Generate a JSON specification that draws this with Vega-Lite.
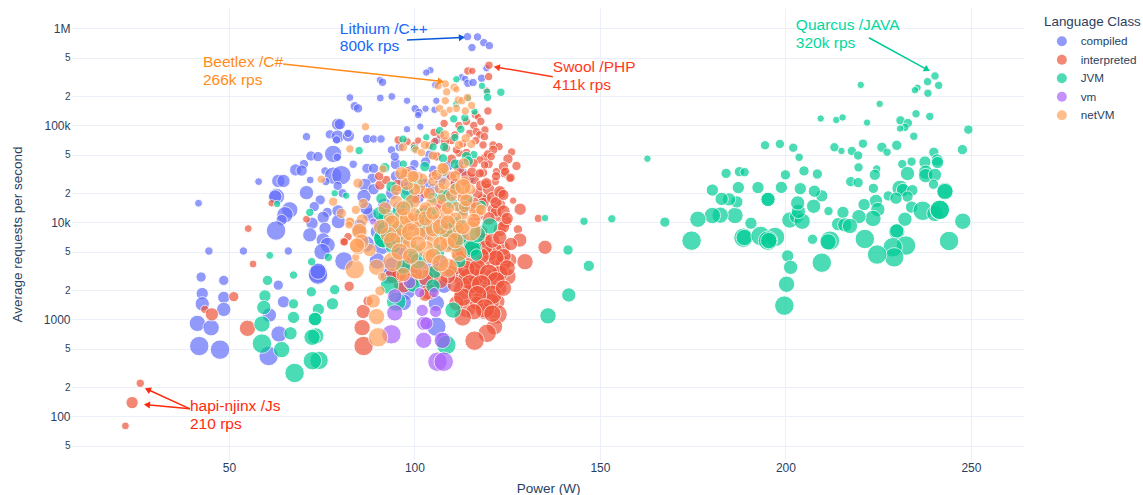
{"$schema":"https://vega.github.io/schema/vega-lite/v6.json","width":952,"height":452,"autosize":{"type":"none"},"padding":{"left":72,"top":8,"right":119,"bottom":35},"background":"white",
"config":{"font":"Liberation Sans","view":{"stroke":null}},
"datasets":{
"arrows":[
{"name":"Lithium","power":98,"rps":760000,"power_end":112.8,"rps_end":807000},
{"name":"Beetlex","power":64.6,"rps":430000,"power_end":107.1,"rps_end":285000},
{"name":"Swool","power":137.3,"rps":318000,"power_end":122.2,"rps_end":399000},
{"name":"Quarcus","power":222.5,"rps":803000,"power_end":238.2,"rps_end":377000},
{"name":"hapi","power":39.5,"rps":120,"power_end":28.1,"rps_end":190},
{"name":"hapi","power":39.5,"rps":120,"power_end":27.9,"rps_end":132}],
"notes":[
{"name":"Lithium","power":79.9,"rps":988000,"text":"Lithium /C++"},{"name":"Lithium","power":79.9,"rps":652000,"text":"800k rps"},
{"name":"Beetlex","power":43,"rps":452000,"text":"Beetlex /C#"},{"name":"Beetlex","power":43,"rps":294000,"text":"266k rps"},
{"name":"Swool","power":137.3,"rps":401000,"text":"Swool /PHP"},{"name":"Swool","power":137.3,"rps":262000,"text":"411k rps"},
{"name":"Quarcus","power":202.8,"rps":1087000,"text":"Quarcus /JAVA"},{"name":"Quarcus","power":202.8,"rps":709000,"text":"320k rps"},
{"name":"hapi","power":39.5,"rps":128,"text":"hapi-njinx /Js"},{"name":"hapi","power":39.5,"rps":84,"text":"210 rps"}],
"bubbles":[
{"class":"compiled","power":44.6,"rps":5080,"size":49},{"class":"compiled","power":53.9,"rps":5080,"size":49},{"class":"compiled","power":66,"rps":5080,"size":49},{"class":"compiled","power":42.5,"rps":2740,"size":81},{"class":"compiled","power":48.6,"rps":2530,"size":81},{"class":"compiled","power":63.3,"rps":2260,"size":81},{"class":"compiled","power":42.8,"rps":1850,"size":121},{"class":"compiled","power":48.6,"rps":1690,"size":121},{"class":"compiled","power":42.8,"rps":1450,"size":169},{"class":"compiled","power":48.6,"rps":1270,"size":169},{"class":"compiled","power":41.5,"rps":912,"size":225},{"class":"compiled","power":45.2,"rps":822,"size":225},{"class":"compiled","power":60.9,"rps":1110,"size":169},{"class":"compiled","power":64.7,"rps":1520,"size":121},{"class":"compiled","power":63.5,"rps":708,"size":225},{"class":"compiled","power":42,"rps":532,"size":324},{"class":"compiled","power":47.6,"rps":489,"size":324},{"class":"compiled","power":60.7,"rps":420,"size":324},{"class":"compiled","power":81,"rps":4010,"size":289},{"class":"compiled","power":74,"rps":2990,"size":324},{"class":"compiled","power":74,"rps":2900,"size":324},{"class":"compiled","power":74,"rps":3150,"size":225},
{"class":"compiled","power":41.8,"rps":15800,"size":42},{"class":"compiled","power":58,"rps":26400,"size":42},{"class":"compiled","power":70.9,"rps":76700,"size":49},{"class":"compiled","power":82.6,"rps":194000,"size":42},{"class":"compiled","power":90.7,"rps":294000,"size":36},{"class":"compiled","power":91.4,"rps":279000,"size":49},{"class":"compiled","power":90.8,"rps":192000,"size":42},{"class":"compiled","power":93.9,"rps":199000,"size":42},{"class":"compiled","power":83.9,"rps":158000,"size":64},{"class":"compiled","power":84.8,"rps":150000,"size":64},{"class":"compiled","power":79.3,"rps":103000,"size":121},{"class":"compiled","power":79.9,"rps":103000,"size":100},{"class":"compiled","power":77.2,"rps":81000,"size":64},{"class":"compiled","power":79.3,"rps":76700,"size":144},{"class":"compiled","power":82.2,"rps":78000,"size":121},{"class":"compiled","power":82.1,"rps":83000,"size":49},{"class":"compiled","power":79,"rps":71000,"size":49},{"class":"compiled","power":87.2,"rps":72600,"size":64},{"class":"compiled","power":89,"rps":72600,"size":49},{"class":"compiled","power":91,"rps":72600,"size":49},{"class":"compiled","power":72.1,"rps":48500,"size":81},{"class":"compiled","power":74,"rps":47800,"size":81},{"class":"compiled","power":78.1,"rps":50900,"size":256},{"class":"compiled","power":79.2,"rps":47000,"size":49},{"class":"compiled","power":83.5,"rps":39800,"size":49},{"class":"compiled","power":70.2,"rps":40000,"size":64},{"class":"compiled","power":68,"rps":34800,"size":121},{"class":"compiled","power":69.6,"rps":34300,"size":100},{"class":"compiled","power":75.9,"rps":34000,"size":49},{"class":"compiled","power":78.1,"rps":30400,"size":256},{"class":"compiled","power":80.3,"rps":30700,"size":324},{"class":"compiled","power":87.2,"rps":36200,"size":81},{"class":"compiled","power":89,"rps":36200,"size":81},{"class":"compiled","power":88.6,"rps":28600,"size":81},{"class":"compiled","power":76.1,"rps":26400,"size":49},{"class":"compiled","power":71.9,"rps":27400,"size":42},{"class":"compiled","power":79.3,"rps":23800,"size":64},{"class":"compiled","power":63.3,"rps":26800,"size":144},{"class":"compiled","power":64.7,"rps":26800,"size":144},{"class":"compiled","power":70.9,"rps":20300,"size":169},{"class":"compiled","power":62.8,"rps":18500,"size":225},{"class":"compiled","power":62.5,"rps":18500,"size":144},{"class":"compiled","power":74.6,"rps":17100,"size":81},{"class":"compiled","power":80.6,"rps":20000,"size":64},{"class":"compiled","power":86.6,"rps":24400,"size":144},{"class":"compiled","power":86.4,"rps":18500,"size":169},{"class":"compiled","power":66.4,"rps":13500,"size":225},{"class":"compiled","power":65.1,"rps":12000,"size":225},{"class":"compiled","power":64.2,"rps":10600,"size":100},{"class":"compiled","power":73,"rps":14600,"size":81},{"class":"compiled","power":76.5,"rps":12700,"size":81},{"class":"compiled","power":75.4,"rps":11300,"size":121},{"class":"compiled","power":79.4,"rps":13200,"size":121},{"class":"compiled","power":79.5,"rps":10200,"size":169},{"class":"compiled","power":72.4,"rps":9820,"size":121},{"class":"compiled","power":71.8,"rps":7450,"size":169},{"class":"compiled","power":75.9,"rps":8710,"size":121},{"class":"compiled","power":62.7,"rps":8250,"size":324},{"class":"compiled","power":75.4,"rps":6600,"size":169},{"class":"compiled","power":76.6,"rps":5860,"size":196},{"class":"compiled","power":75.1,"rps":5000,"size":225},
{"class":"compiled","power":91.1,"rps":5640,"size":225},{"class":"compiled","power":94.2,"rps":3510,"size":324},{"class":"compiled","power":97.8,"rps":2010,"size":324},{"class":"compiled","power":105.9,"rps":1470,"size":225},{"class":"compiled","power":105.9,"rps":843,"size":324},{"class":"compiled","power":105,"rps":2180,"size":225},{"class":"compiled","power":107.9,"rps":605,"size":225},{"class":"compiled","power":90,"rps":8000,"size":169},{"class":"compiled","power":92,"rps":15000,"size":169},{"class":"compiled","power":95,"rps":30000,"size":100},{"class":"compiled","power":98,"rps":22000,"size":121},{"class":"compiled","power":100,"rps":40000,"size":64},{"class":"compiled","power":103,"rps":25000,"size":100},{"class":"compiled","power":105,"rps":35000,"size":64},{"class":"compiled","power":108,"rps":30000,"size":64},{"class":"compiled","power":110,"rps":20000,"size":100},{"class":"compiled","power":112,"rps":40000,"size":64},{"class":"compiled","power":96,"rps":60000,"size":64},{"class":"compiled","power":104,"rps":50000,"size":64},{"class":"compiled","power":106,"rps":70000,"size":49},{"class":"compiled","power":88,"rps":12000,"size":169},{"class":"compiled","power":85,"rps":9000,"size":196},{"class":"compiled","power":87,"rps":6000,"size":225},{"class":"compiled","power":90,"rps":4000,"size":225},{"class":"compiled","power":93,"rps":2800,"size":225},{"class":"compiled","power":100,"rps":4000,"size":169},{"class":"compiled","power":102,"rps":2500,"size":196},{"class":"compiled","power":108,"rps":2200,"size":169},{"class":"compiled","power":97,"rps":1500,"size":225},
{"class":"compiled","power":95,"rps":40000,"size":100},{"class":"compiled","power":97,"rps":27000,"size":121},{"class":"compiled","power":99,"rps":33000,"size":144},{"class":"compiled","power":101,"rps":18000,"size":121},{"class":"compiled","power":103,"rps":42000,"size":81},{"class":"compiled","power":105,"rps":22000,"size":121},{"class":"compiled","power":107,"rps":27000,"size":100},{"class":"compiled","power":109,"rps":38000,"size":81},{"class":"compiled","power":111,"rps":25000,"size":100},{"class":"compiled","power":113,"rps":33000,"size":64},{"class":"compiled","power":115,"rps":28000,"size":64},{"class":"compiled","power":94,"rps":20000,"size":144},{"class":"compiled","power":96,"rps":14000,"size":169},{"class":"compiled","power":99,"rps":10000,"size":196},{"class":"compiled","power":103,"rps":8000,"size":196},{"class":"compiled","power":107,"rps":10000,"size":169},{"class":"compiled","power":110,"rps":6000,"size":169},{"class":"compiled","power":113,"rps":7000,"size":144},{"class":"compiled","power":89,"rps":22000,"size":100},{"class":"compiled","power":87,"rps":14000,"size":144},{"class":"compiled","power":91,"rps":10000,"size":196},{"class":"compiled","power":93,"rps":7000,"size":225},{"class":"compiled","power":96,"rps":5000,"size":225},{"class":"compiled","power":99,"rps":3000,"size":225},{"class":"compiled","power":103,"rps":3500,"size":196},{"class":"compiled","power":107,"rps":4000,"size":169},{"class":"compiled","power":110,"rps":3000,"size":169},
{"class":"compiled","power":114.3,"rps":824000,"size":49},{"class":"compiled","power":117,"rps":818000,"size":49},{"class":"compiled","power":118.7,"rps":714000,"size":49},{"class":"compiled","power":120.2,"rps":665000,"size":49},{"class":"compiled","power":115.5,"rps":635000,"size":49},{"class":"compiled","power":119.4,"rps":389000,"size":36},{"class":"compiled","power":104.3,"rps":371000,"size":36},{"class":"compiled","power":103.2,"rps":351000,"size":36},{"class":"compiled","power":112.7,"rps":314000,"size":36},{"class":"compiled","power":113.7,"rps":302000,"size":36},{"class":"compiled","power":114.4,"rps":272000,"size":49},{"class":"compiled","power":115.8,"rps":277000,"size":49},{"class":"compiled","power":118.1,"rps":307000,"size":49},{"class":"compiled","power":105.6,"rps":262000,"size":36},{"class":"compiled","power":105.9,"rps":180000,"size":36},{"class":"compiled","power":98,"rps":180000,"size":36},{"class":"compiled","power":100.2,"rps":149000,"size":49},{"class":"compiled","power":101.2,"rps":136000,"size":49},{"class":"compiled","power":101,"rps":128000,"size":36},{"class":"compiled","power":103,"rps":149000,"size":36},{"class":"compiled","power":105.4,"rps":145000,"size":36},{"class":"compiled","power":98,"rps":91400,"size":36},{"class":"compiled","power":101.6,"rps":97300,"size":36},{"class":"compiled","power":93.8,"rps":56000,"size":49},{"class":"compiled","power":94.7,"rps":47800,"size":64},
{"class":"interpreted","power":128.5,"rps":13700,"size":121},{"class":"interpreted","power":133.4,"rps":11000,"size":49},{"class":"interpreted","power":127.9,"rps":8500,"size":64},{"class":"interpreted","power":128.4,"rps":6590,"size":169},{"class":"interpreted","power":135.2,"rps":5550,"size":169},{"class":"interpreted","power":129.8,"rps":3940,"size":225},{"class":"interpreted","power":125.2,"rps":2760,"size":225},{"class":"interpreted","power":125.7,"rps":4100,"size":169},{"class":"interpreted","power":123.9,"rps":5420,"size":169},{"class":"interpreted","power":121.8,"rps":5200,"size":169},{"class":"interpreted","power":118.9,"rps":6590,"size":169},{"class":"interpreted","power":123,"rps":8360,"size":144},{"class":"interpreted","power":124.5,"rps":10200,"size":144},{"class":"interpreted","power":123,"rps":15100,"size":121},{"class":"interpreted","power":123.4,"rps":20000,"size":100},{"class":"interpreted","power":119.4,"rps":17700,"size":64},{"class":"interpreted","power":118.3,"rps":17700,"size":81},{"class":"interpreted","power":121.8,"rps":26400,"size":49},{"class":"interpreted","power":119.4,"rps":25400,"size":36},{"class":"interpreted","power":126.6,"rps":16800,"size":36},{"class":"interpreted","power":125.7,"rps":28500,"size":49},{"class":"interpreted","power":124.3,"rps":32100,"size":64},{"class":"interpreted","power":122.1,"rps":33400,"size":49},{"class":"interpreted","power":118.5,"rps":32600,"size":64},{"class":"interpreted","power":122.1,"rps":3650,"size":324},{"class":"interpreted","power":122.1,"rps":2880,"size":225},{"class":"interpreted","power":118.5,"rps":3940,"size":225},{"class":"interpreted","power":114.5,"rps":3940,"size":169},{"class":"interpreted","power":112.2,"rps":2760,"size":196},{"class":"interpreted","power":113.1,"rps":2010,"size":324},{"class":"interpreted","power":116.2,"rps":2140,"size":361},{"class":"interpreted","power":120.7,"rps":2140,"size":324},{"class":"interpreted","power":123,"rps":2090,"size":169},{"class":"interpreted","power":118.3,"rps":1610,"size":324},{"class":"interpreted","power":122.5,"rps":1530,"size":169},{"class":"interpreted","power":114,"rps":1300,"size":289},{"class":"interpreted","power":111.3,"rps":1470,"size":196},{"class":"interpreted","power":118.9,"rps":1210,"size":225},{"class":"interpreted","power":122.4,"rps":1130,"size":324},{"class":"interpreted","power":121.6,"rps":843,"size":225},{"class":"interpreted","power":119.6,"rps":720,"size":289},{"class":"interpreted","power":116.2,"rps":605,"size":324},{"class":"interpreted","power":86.2,"rps":1210,"size":169},{"class":"interpreted","power":85.9,"rps":824,"size":225},{"class":"interpreted","power":86.3,"rps":533,"size":324},{"class":"interpreted","power":87.5,"rps":1550,"size":81},{"class":"interpreted","power":82.4,"rps":2200,"size":81},{"class":"interpreted","power":103.9,"rps":1940,"size":225},{"class":"interpreted","power":102.9,"rps":1800,"size":144},{"class":"interpreted","power":96.9,"rps":2360,"size":324},{"class":"interpreted","power":97.8,"rps":3790,"size":289},{"class":"interpreted","power":82.1,"rps":7140,"size":49},{"class":"interpreted","power":80.9,"rps":6340,"size":49},{"class":"interpreted","power":70.9,"rps":10800,"size":42},{"class":"interpreted","power":90.7,"rps":24300,"size":81},{"class":"interpreted","power":102.8,"rps":12900,"size":144},{"class":"interpreted","power":115.8,"rps":3240,"size":225},{"class":"interpreted","power":123.9,"rps":3790,"size":225},{"class":"interpreted","power":119.4,"rps":2760,"size":225},{"class":"interpreted","power":114,"rps":2760,"size":225},{"class":"interpreted","power":116.7,"rps":2760,"size":225},{"class":"interpreted","power":120.3,"rps":4810,"size":196},{"class":"interpreted","power":123,"rps":2990,"size":225},{"class":"interpreted","power":120.7,"rps":1530,"size":225},{"class":"interpreted","power":116.7,"rps":1470,"size":169},{"class":"interpreted","power":118.5,"rps":15700,"size":121},{"class":"interpreted","power":121.2,"rps":13500,"size":121},{"class":"interpreted","power":122,"rps":11500,"size":100},{"class":"interpreted","power":124,"rps":9000,"size":121},{"class":"interpreted","power":122,"rps":13000,"size":100},{"class":"interpreted","power":112,"rps":4500,"size":169},{"class":"interpreted","power":115,"rps":6000,"size":169},{"class":"interpreted","power":118,"rps":8000,"size":144},{"class":"interpreted","power":110,"rps":8000,"size":121},{"class":"interpreted","power":116,"rps":10000,"size":121},{"class":"interpreted","power":113,"rps":13000,"size":100},{"class":"interpreted","power":117,"rps":20000,"size":100},{"class":"interpreted","power":114,"rps":25000,"size":64},
{"class":"interpreted","power":110,"rps":30000,"size":81},{"class":"interpreted","power":112,"rps":35000,"size":100},{"class":"interpreted","power":114,"rps":30000,"size":100},{"class":"interpreted","power":116,"rps":28000,"size":100},{"class":"interpreted","power":118,"rps":24000,"size":100},{"class":"interpreted","power":120,"rps":22000,"size":121},{"class":"interpreted","power":121,"rps":18000,"size":121},{"class":"interpreted","power":122,"rps":16000,"size":121},{"class":"interpreted","power":124,"rps":13000,"size":144},{"class":"interpreted","power":125,"rps":11000,"size":121},{"class":"interpreted","power":120,"rps":11000,"size":144},{"class":"interpreted","power":117,"rps":12000,"size":121},{"class":"interpreted","power":115,"rps":15000,"size":121},{"class":"interpreted","power":113,"rps":18000,"size":100},{"class":"interpreted","power":111,"rps":25000,"size":100},{"class":"interpreted","power":109,"rps":20000,"size":100},{"class":"interpreted","power":107,"rps":15000,"size":121},{"class":"interpreted","power":105,"rps":30000,"size":64},{"class":"interpreted","power":103,"rps":20000,"size":100},{"class":"interpreted","power":101,"rps":30000,"size":64},{"class":"interpreted","power":100,"rps":18000,"size":100},{"class":"interpreted","power":117,"rps":5000,"size":225},{"class":"interpreted","power":119,"rps":5500,"size":196},{"class":"interpreted","power":121,"rps":6500,"size":196},{"class":"interpreted","power":123,"rps":7000,"size":169},{"class":"interpreted","power":126,"rps":6000,"size":144},{"class":"interpreted","power":124,"rps":4500,"size":196},{"class":"interpreted","power":122,"rps":4300,"size":225},{"class":"interpreted","power":118,"rps":4500,"size":225},{"class":"interpreted","power":116,"rps":5000,"size":196},{"class":"interpreted","power":113,"rps":5000,"size":196},{"class":"interpreted","power":111,"rps":3500,"size":225},{"class":"interpreted","power":114,"rps":3300,"size":256},{"class":"interpreted","power":117,"rps":3400,"size":256},{"class":"interpreted","power":120,"rps":3000,"size":289},{"class":"interpreted","power":122,"rps":2500,"size":289},{"class":"interpreted","power":125,"rps":3400,"size":225},{"class":"interpreted","power":115,"rps":2300,"size":324},{"class":"interpreted","power":118,"rps":2300,"size":324},{"class":"interpreted","power":121,"rps":1800,"size":324},{"class":"interpreted","power":113,"rps":1700,"size":289},{"class":"interpreted","power":111,"rps":2300,"size":225},{"class":"interpreted","power":117,"rps":1800,"size":289},{"class":"interpreted","power":119,"rps":1300,"size":324},{"class":"interpreted","power":124,"rps":2100,"size":225},{"class":"interpreted","power":121,"rps":1150,"size":256},{"class":"interpreted","power":116,"rps":1200,"size":225},{"class":"interpreted","power":113,"rps":1050,"size":256},{"class":"interpreted","power":109,"rps":2800,"size":196},{"class":"interpreted","power":107,"rps":2500,"size":196},{"class":"interpreted","power":105,"rps":3000,"size":225},{"class":"interpreted","power":103,"rps":2700,"size":225},{"class":"interpreted","power":100,"rps":3000,"size":225},{"class":"interpreted","power":99,"rps":2500,"size":225},{"class":"interpreted","power":96,"rps":2900,"size":196},{"class":"interpreted","power":94,"rps":2800,"size":196},{"class":"interpreted","power":116,"rps":16000,"size":100},{"class":"interpreted","power":120,"rps":40000,"size":64},{"class":"interpreted","power":122,"rps":30000,"size":64},{"class":"interpreted","power":119,"rps":47000,"size":49},{"class":"interpreted","power":114,"rps":52000,"size":64},{"class":"interpreted","power":112,"rps":52000,"size":49},{"class":"interpreted","power":106,"rps":48000,"size":64},{"class":"interpreted","power":104,"rps":62000,"size":49},{"class":"interpreted","power":100,"rps":62000,"size":49},{"class":"interpreted","power":98,"rps":68000,"size":49},{"class":"interpreted","power":101,"rps":70000,"size":36},{"class":"interpreted","power":113,"rps":65000,"size":49},{"class":"interpreted","power":110,"rps":70000,"size":49},{"class":"interpreted","power":107,"rps":80000,"size":49},{"class":"interpreted","power":112,"rps":100000,"size":49},{"class":"interpreted","power":114,"rps":110000,"size":49},{"class":"interpreted","power":116,"rps":100000,"size":49},{"class":"interpreted","power":108,"rps":105000,"size":49},{"class":"interpreted","power":119,"rps":90000,"size":49},
{"class":"interpreted","power":120.1,"rps":418000,"size":49},{"class":"interpreted","power":114.4,"rps":365000,"size":49},{"class":"interpreted","power":120,"rps":319000,"size":49},{"class":"interpreted","power":115.6,"rps":365000,"size":36},{"class":"interpreted","power":119.8,"rps":141000,"size":49},{"class":"interpreted","power":122.8,"rps":97000,"size":49},{"class":"interpreted","power":116.4,"rps":129000,"size":49},{"class":"interpreted","power":117.1,"rps":123000,"size":36},{"class":"interpreted","power":117.9,"rps":110000,"size":49},{"class":"interpreted","power":119.4,"rps":229000,"size":36},{"class":"interpreted","power":105.3,"rps":85000,"size":49},{"class":"interpreted","power":114.9,"rps":83000,"size":49},{"class":"interpreted","power":116.7,"rps":86500,"size":49},{"class":"interpreted","power":117.6,"rps":80000,"size":49},{"class":"interpreted","power":110.9,"rps":80000,"size":49},{"class":"interpreted","power":118.9,"rps":76700,"size":49},{"class":"interpreted","power":116.5,"rps":69800,"size":49},{"class":"interpreted","power":118.5,"rps":63000,"size":49},{"class":"interpreted","power":121.2,"rps":63000,"size":49},{"class":"interpreted","power":122.8,"rps":60500,"size":49},{"class":"interpreted","power":121.2,"rps":56000,"size":64},{"class":"interpreted","power":119.7,"rps":50900,"size":49},{"class":"interpreted","power":126.2,"rps":53300,"size":49},{"class":"interpreted","power":125.2,"rps":45200,"size":81},{"class":"interpreted","power":124,"rps":37700,"size":81},{"class":"interpreted","power":127.5,"rps":38300,"size":64},{"class":"interpreted","power":124.5,"rps":33400,"size":64},{"class":"interpreted","power":125.9,"rps":29000,"size":64},{"class":"interpreted","power":120.7,"rps":47800,"size":49},{"class":"interpreted","power":117.6,"rps":44200,"size":49},{"class":"interpreted","power":118.9,"rps":39200,"size":49},{"class":"interpreted","power":115.8,"rps":40700,"size":81},{"class":"interpreted","power":115.5,"rps":33000,"size":81},{"class":"interpreted","power":117.6,"rps":32100,"size":64},{"class":"interpreted","power":119.4,"rps":25400,"size":100},{"class":"interpreted","power":123,"rps":20800,"size":121},{"class":"interpreted","power":124,"rps":19200,"size":100},{"class":"interpreted","power":95.6,"rps":71000,"size":49},{"class":"interpreted","power":108.2,"rps":68200,"size":64},{"class":"interpreted","power":108.6,"rps":58200,"size":49},{"class":"interpreted","power":111.3,"rps":56000,"size":49},{"class":"interpreted","power":105.5,"rps":68200,"size":49},{"class":"interpreted","power":110,"rps":45000,"size":81},{"class":"interpreted","power":92.4,"rps":27400,"size":64},{"class":"interpreted","power":90.5,"rps":30000,"size":64},{"class":"interpreted","power":98,"rps":33000,"size":100},{"class":"interpreted","power":95.5,"rps":24000,"size":121},
{"class":"interpreted","power":55.2,"rps":8650,"size":42},{"class":"interpreted","power":61.5,"rps":15800,"size":36},{"class":"interpreted","power":81.1,"rps":6310,"size":49},{"class":"interpreted","power":56.5,"rps":3730,"size":42},{"class":"interpreted","power":51.3,"rps":1720,"size":81},{"class":"interpreted","power":43.5,"rps":1270,"size":49},{"class":"interpreted","power":45.4,"rps":1130,"size":144},{"class":"interpreted","power":55,"rps":811,"size":225},{"class":"interpreted","power":26.1,"rps":220,"size":49},{"class":"interpreted","power":23.9,"rps":139,"size":121},{"class":"interpreted","power":22.1,"rps":80,"size":42},
{"class":"JVM","power":162.8,"rps":45500,"size":36},{"class":"JVM","power":194.5,"rps":62500,"size":64},{"class":"JVM","power":198.5,"rps":64500,"size":64},{"class":"JVM","power":202.1,"rps":59000,"size":64},{"class":"JVM","power":203.7,"rps":47000,"size":49},{"class":"JVM","power":200,"rps":31000,"size":81},{"class":"JVM","power":205,"rps":34000,"size":81},{"class":"JVM","power":208.6,"rps":31600,"size":81},{"class":"JVM","power":209.5,"rps":118000,"size":36},{"class":"JVM","power":213.7,"rps":114000,"size":36},{"class":"JVM","power":215.4,"rps":121000,"size":36},{"class":"JVM","power":220.3,"rps":262000,"size":36},{"class":"JVM","power":222,"rps":107000,"size":36},{"class":"JVM","power":225.4,"rps":167000,"size":36},{"class":"JVM","power":213.2,"rps":59600,"size":64},{"class":"JVM","power":215.1,"rps":54600,"size":36},{"class":"JVM","power":217.9,"rps":54600,"size":64},{"class":"JVM","power":219.6,"rps":49000,"size":64},{"class":"JVM","power":220.9,"rps":65000,"size":64},{"class":"JVM","power":226,"rps":59600,"size":81},{"class":"JVM","power":227.4,"rps":53000,"size":49},{"class":"JVM","power":230,"rps":62500,"size":81},{"class":"JVM","power":219.7,"rps":37000,"size":64},{"class":"JVM","power":224.6,"rps":35600,"size":49},{"class":"JVM","power":224.1,"rps":31000,"size":100},{"class":"JVM","power":231.5,"rps":40000,"size":64},{"class":"JVM","power":234,"rps":42400,"size":64},{"class":"JVM","power":232.9,"rps":32000,"size":169},{"class":"JVM","power":240,"rps":53000,"size":81},{"class":"JVM","power":247.7,"rps":56400,"size":81},{"class":"JVM","power":249.3,"rps":90600,"size":64},{"class":"JVM","power":234.6,"rps":77400,"size":49},{"class":"JVM","power":231,"rps":113000,"size":64},{"class":"JVM","power":233,"rps":106000,"size":64},{"class":"JVM","power":232.2,"rps":95700,"size":49},{"class":"JVM","power":230.9,"rps":93000,"size":36},{"class":"JVM","power":235.2,"rps":132000,"size":49},{"class":"JVM","power":238.9,"rps":124000,"size":49},{"class":"JVM","power":240.3,"rps":324000,"size":49},{"class":"JVM","power":238.3,"rps":283000,"size":49},{"class":"JVM","power":241.3,"rps":259000,"size":49},{"class":"JVM","power":238.4,"rps":215000,"size":49},{"class":"JVM","power":235.6,"rps":245000,"size":36},{"class":"JVM","power":234.9,"rps":231000,"size":36},{"class":"JVM","power":237.6,"rps":42000,"size":121},{"class":"JVM","power":240.9,"rps":44000,"size":121},{"class":"JVM","power":241,"rps":41400,"size":121},{"class":"JVM","power":237.8,"rps":33000,"size":169},{"class":"JVM","power":237.8,"rps":30400,"size":169},{"class":"JVM","power":240.3,"rps":31000,"size":144},{"class":"JVM","power":239.9,"rps":24800,"size":81},{"class":"JVM","power":243,"rps":21300,"size":225},{"class":"JVM","power":243,"rps":20800,"size":225},{"class":"JVM","power":217.6,"rps":26400,"size":81},{"class":"JVM","power":219.6,"rps":25800,"size":81},{"class":"JVM","power":223.7,"rps":22500,"size":81},{"class":"JVM","power":230.9,"rps":22500,"size":225},{"class":"JVM","power":231.7,"rps":21600,"size":144},{"class":"JVM","power":234.2,"rps":21500,"size":100},{"class":"JVM","power":232.9,"rps":18500,"size":100},{"class":"JVM","power":227.7,"rps":18800,"size":81},{"class":"JVM","power":229.8,"rps":17800,"size":121},{"class":"JVM","power":224.4,"rps":16700,"size":144},{"class":"JVM","power":221.2,"rps":15300,"size":121},{"class":"JVM","power":224.9,"rps":13600,"size":169},{"class":"JVM","power":223.6,"rps":11000,"size":225},{"class":"JVM","power":219.8,"rps":11500,"size":169},{"class":"JVM","power":215.5,"rps":12700,"size":121},{"class":"JVM","power":211.6,"rps":13100,"size":64},{"class":"JVM","power":234,"rps":14400,"size":121},{"class":"JVM","power":237,"rps":13200,"size":324},{"class":"JVM","power":240.3,"rps":12400,"size":225},{"class":"JVM","power":241.6,"rps":13500,"size":324},{"class":"JVM","power":241.6,"rps":13500,"size":324},{"class":"JVM","power":232.2,"rps":10800,"size":169},{"class":"JVM","power":247.8,"rps":10300,"size":225},{"class":"JVM","power":230,"rps":8050,"size":225},{"class":"JVM","power":230,"rps":8180,"size":169},{"class":"JVM","power":232.5,"rps":5780,"size":324},{"class":"JVM","power":228.9,"rps":5550,"size":324},{"class":"JVM","power":229.3,"rps":4370,"size":324},{"class":"JVM","power":224.7,"rps":4670,"size":324},{"class":"JVM","power":221.4,"rps":6760,"size":324},{"class":"JVM","power":244.1,"rps":6450,"size":324},{"class":"JVM","power":212,"rps":6500,"size":324},{"class":"JVM","power":211.5,"rps":6310,"size":225},{"class":"JVM","power":207.3,"rps":6720,"size":81},{"class":"JVM","power":209.8,"rps":3850,"size":324},{"class":"JVM","power":200.6,"rps":4520,"size":121},{"class":"JVM","power":201.4,"rps":3450,"size":169},{"class":"JVM","power":200.3,"rps":2310,"size":225},{"class":"JVM","power":199.7,"rps":1390,"size":324},{"class":"JVM","power":174.7,"rps":6500,"size":324},{"class":"JVM","power":188.7,"rps":6980,"size":324},{"class":"JVM","power":188.9,"rps":7000,"size":225},{"class":"JVM","power":193.3,"rps":7260,"size":324},{"class":"JVM","power":197.2,"rps":7090,"size":324},{"class":"JVM","power":195.3,"rps":6500,"size":324},{"class":"JVM","power":195.5,"rps":6500,"size":225},{"class":"JVM","power":190.7,"rps":9820,"size":121},{"class":"JVM","power":186.4,"rps":11800,"size":225},{"class":"JVM","power":182.4,"rps":11900,"size":225},{"class":"JVM","power":180.3,"rps":11800,"size":225},{"class":"JVM","power":176.4,"rps":10800,"size":225},{"class":"JVM","power":167.5,"rps":10100,"size":81},{"class":"JVM","power":201.2,"rps":10600,"size":225},{"class":"JVM","power":203,"rps":11500,"size":169},{"class":"JVM","power":204.5,"rps":10300,"size":225},{"class":"JVM","power":203.5,"rps":13000,"size":169},{"class":"JVM","power":203.3,"rps":15900,"size":169},{"class":"JVM","power":207.6,"rps":14700,"size":169},{"class":"JVM","power":209.8,"rps":18800,"size":121},{"class":"JVM","power":207.8,"rps":21000,"size":121},{"class":"JVM","power":204,"rps":22300,"size":121},{"class":"JVM","power":198.9,"rps":23000,"size":121},{"class":"JVM","power":192.6,"rps":22900,"size":121},{"class":"JVM","power":195.3,"rps":17300,"size":169},{"class":"JVM","power":195.3,"rps":17300,"size":169},{"class":"JVM","power":187.3,"rps":22900,"size":121},{"class":"JVM","power":186.9,"rps":16300,"size":121},{"class":"JVM","power":184.8,"rps":17300,"size":144},{"class":"JVM","power":182.8,"rps":17500,"size":144},{"class":"JVM","power":180.3,"rps":21600,"size":121},{"class":"JVM","power":184,"rps":32100,"size":81},{"class":"JVM","power":187.6,"rps":33400,"size":81},{"class":"JVM","power":189,"rps":33000,"size":64},{"class":"JVM","power":214.2,"rps":9600,"size":144},{"class":"JVM","power":216,"rps":9440,"size":169},{"class":"JVM","power":217.4,"rps":9200,"size":196},
{"class":"JVM","power":135.2,"rps":11100,"size":36},{"class":"JVM","power":145.7,"rps":10300,"size":49},{"class":"JVM","power":153.2,"rps":10900,"size":49},{"class":"JVM","power":141.4,"rps":5200,"size":81},{"class":"JVM","power":147,"rps":3570,"size":100},{"class":"JVM","power":141.6,"rps":1790,"size":169},{"class":"JVM","power":136,"rps":1090,"size":225},
{"class":"JVM","power":61,"rps":4580,"size":42},{"class":"JVM","power":67.4,"rps":2870,"size":49},{"class":"JVM","power":60.4,"rps":2530,"size":81},{"class":"JVM","power":59.7,"rps":1750,"size":121},{"class":"JVM","power":59.4,"rps":1330,"size":169},{"class":"JVM","power":58.9,"rps":897,"size":225},{"class":"JVM","power":58.9,"rps":564,"size":324},{"class":"JVM","power":64.2,"rps":489,"size":225},{"class":"JVM","power":66.6,"rps":720,"size":144},{"class":"JVM","power":67.4,"rps":1050,"size":121},{"class":"JVM","power":67.4,"rps":1450,"size":81},{"class":"JVM","power":72.2,"rps":1930,"size":81},{"class":"JVM","power":78.5,"rps":2030,"size":81},{"class":"JVM","power":77.9,"rps":1450,"size":121},{"class":"JVM","power":74.1,"rps":1270,"size":121},{"class":"JVM","power":73.2,"rps":1010,"size":169},{"class":"JVM","power":73.2,"rps":1010,"size":144},{"class":"JVM","power":73.4,"rps":676,"size":225},{"class":"JVM","power":72.4,"rps":655,"size":225},{"class":"JVM","power":74.3,"rps":379,"size":289},{"class":"JVM","power":72.5,"rps":376,"size":289},{"class":"JVM","power":67.7,"rps":281,"size":324},{"class":"JVM","power":72.3,"rps":3940,"size":49},{"class":"JVM","power":76.8,"rps":4370,"size":49},
{"class":"JVM","power":91.6,"rps":6870,"size":324},{"class":"JVM","power":91.6,"rps":6870,"size":324},{"class":"JVM","power":92.4,"rps":11500,"size":225},{"class":"JVM","power":90.7,"rps":12400,"size":169},{"class":"JVM","power":91.1,"rps":17700,"size":100},{"class":"JVM","power":93.8,"rps":23400,"size":100},{"class":"JVM","power":115.6,"rps":5420,"size":324},{"class":"JVM","power":115.6,"rps":5420,"size":225},{"class":"JVM","power":120.3,"rps":9200,"size":225},{"class":"JVM","power":93.3,"rps":2260,"size":289},{"class":"JVM","power":95.1,"rps":1530,"size":324},{"class":"JVM","power":110.4,"rps":1250,"size":225},{"class":"JVM","power":108.6,"rps":546,"size":324},{"class":"JVM","power":105,"rps":2210,"size":169},{"class":"JVM","power":105.5,"rps":3110,"size":144},{"class":"JVM","power":106.8,"rps":7850,"size":121},{"class":"JVM","power":108.6,"rps":8360,"size":196},{"class":"JVM","power":112.2,"rps":3940,"size":121},{"class":"JVM","power":116.7,"rps":4620,"size":121},{"class":"JVM","power":99.6,"rps":26400,"size":64},{"class":"JVM","power":111.3,"rps":22500,"size":100},{"class":"JVM","power":114.5,"rps":17700,"size":81},{"class":"JVM","power":94.2,"rps":5640,"size":196},{"class":"JVM","power":99.6,"rps":2260,"size":169},{"class":"JVM","power":100,"rps":5000,"size":196},{"class":"JVM","power":96,"rps":9000,"size":225},{"class":"JVM","power":98,"rps":15000,"size":144},{"class":"JVM","power":102,"rps":12000,"size":169},{"class":"JVM","power":105,"rps":18000,"size":100},{"class":"JVM","power":110,"rps":16000,"size":121},{"class":"JVM","power":112,"rps":10000,"size":144},{"class":"JVM","power":118,"rps":15000,"size":81},{"class":"JVM","power":97,"rps":3500,"size":196},
{"class":"JVM","power":96,"rps":7000,"size":324},{"class":"JVM","power":104,"rps":12000,"size":225},{"class":"JVM","power":98,"rps":20000,"size":169},{"class":"JVM","power":101,"rps":25000,"size":100},{"class":"JVM","power":108,"rps":19000,"size":144},{"class":"JVM","power":113,"rps":14000,"size":169},{"class":"JVM","power":106,"rps":5000,"size":225},{"class":"JVM","power":111,"rps":6000,"size":225},{"class":"JVM","power":117,"rps":7500,"size":225},{"class":"JVM","power":101,"rps":4000,"size":225},{"class":"JVM","power":96,"rps":13000,"size":196},{"class":"JVM","power":92,"rps":8500,"size":225},{"class":"JVM","power":103,"rps":9000,"size":225},{"class":"JVM","power":110,"rps":9000,"size":196},{"class":"JVM","power":112,"rps":7000,"size":225},{"class":"JVM","power":105,"rps":60000,"size":49},{"class":"JVM","power":100,"rps":58000,"size":49},{"class":"JVM","power":108,"rps":60000,"size":64},{"class":"JVM","power":111,"rps":40000,"size":81},{"class":"JVM","power":116,"rps":50000,"size":49},
{"class":"JVM","power":111.3,"rps":299000,"size":36},{"class":"JVM","power":118.2,"rps":256000,"size":36},{"class":"JVM","power":119.6,"rps":223000,"size":36},{"class":"JVM","power":119.7,"rps":195000,"size":49},{"class":"JVM","power":123.3,"rps":220000,"size":49},{"class":"JVM","power":114.5,"rps":191000,"size":36},{"class":"JVM","power":111.3,"rps":167000,"size":36},{"class":"JVM","power":110.6,"rps":117000,"size":49},{"class":"JVM","power":113.6,"rps":120000,"size":49},{"class":"JVM","power":116.2,"rps":139000,"size":36},{"class":"JVM","power":112.5,"rps":91400,"size":49},{"class":"JVM","power":106.8,"rps":88500,"size":49},{"class":"JVM","power":103.2,"rps":75500,"size":36},{"class":"JVM","power":96.9,"rps":72100,"size":49},{"class":"JVM","power":110.9,"rps":75000,"size":49},{"class":"JVM","power":107.7,"rps":45900,"size":64},{"class":"JVM","power":102.8,"rps":37700,"size":81},{"class":"JVM","power":92,"rps":36800,"size":81},{"class":"JVM","power":114,"rps":47800,"size":81},{"class":"JVM","power":107.7,"rps":33000,"size":81},{"class":"JVM","power":97,"rps":40000,"size":49},{"class":"JVM","power":114.5,"rps":43000,"size":81},{"class":"JVM","power":85.1,"rps":55100,"size":49},{"class":"JVM","power":63,"rps":15500,"size":36},{"class":"JVM","power":78.5,"rps":20000,"size":36},{"class":"JVM","power":81.6,"rps":18900,"size":36},{"class":"JVM","power":71.8,"rps":12700,"size":49},
{"class":"vm","power":88.9,"rps":10200,"size":36},{"class":"vm","power":94.7,"rps":1750,"size":169},{"class":"vm","power":94.7,"rps":1170,"size":225},{"class":"vm","power":93.8,"rps":703,"size":324},{"class":"vm","power":101.4,"rps":1890,"size":81},{"class":"vm","power":105.3,"rps":1890,"size":81},{"class":"vm","power":102.1,"rps":1240,"size":121},{"class":"vm","power":105.7,"rps":1210,"size":121},{"class":"vm","power":102.5,"rps":912,"size":169},{"class":"vm","power":103.2,"rps":912,"size":144},{"class":"vm","power":102.5,"rps":610,"size":225},{"class":"vm","power":107.5,"rps":610,"size":225},{"class":"vm","power":106.2,"rps":367,"size":324},{"class":"vm","power":107.9,"rps":367,"size":324},{"class":"vm","power":98.7,"rps":2400,"size":121},{"class":"vm","power":105.9,"rps":3790,"size":36},
{"class":"netVM","power":97.4,"rps":6970,"size":361},{"class":"netVM","power":96.9,"rps":11500,"size":256},{"class":"netVM","power":99.5,"rps":16400,"size":196},{"class":"netVM","power":95.1,"rps":16400,"size":144},{"class":"netVM","power":101.4,"rps":22500,"size":121},{"class":"netVM","power":105,"rps":26400,"size":81},{"class":"netVM","power":107.3,"rps":17300,"size":100},{"class":"netVM","power":113.3,"rps":20000,"size":169},{"class":"netVM","power":113.5,"rps":26400,"size":100},{"class":"netVM","power":116.7,"rps":13500,"size":225},{"class":"netVM","power":113.1,"rps":11900,"size":100},{"class":"netVM","power":108.4,"rps":11900,"size":225},{"class":"netVM","power":104.3,"rps":10600,"size":100},{"class":"netVM","power":103.2,"rps":7730,"size":196},{"class":"netVM","power":105,"rps":6590,"size":144},{"class":"netVM","power":109.2,"rps":7140,"size":289},{"class":"netVM","power":115.2,"rps":8170,"size":361},{"class":"netVM","power":111.8,"rps":8710,"size":121},{"class":"netVM","power":109,"rps":5860,"size":196},{"class":"netVM","power":103.2,"rps":5280,"size":256},{"class":"netVM","power":112,"rps":4810,"size":225},{"class":"netVM","power":109,"rps":3420,"size":324},{"class":"netVM","power":101.4,"rps":3240,"size":324},{"class":"netVM","power":94.1,"rps":3940,"size":324},{"class":"netVM","power":89.8,"rps":3450,"size":225},{"class":"netVM","power":83.9,"rps":3290,"size":324},{"class":"netVM","power":84.2,"rps":4380,"size":49},{"class":"netVM","power":84.8,"rps":5640,"size":225},{"class":"netVM","power":87.9,"rps":5200,"size":144},{"class":"netVM","power":85.3,"rps":8040,"size":196},{"class":"netVM","power":82.6,"rps":10000,"size":81},{"class":"netVM","power":85.9,"rps":10600,"size":121},{"class":"netVM","power":84.2,"rps":13500,"size":64},{"class":"netVM","power":80.3,"rps":12400,"size":81},{"class":"netVM","power":86.2,"rps":15700,"size":81},{"class":"netVM","power":78.1,"rps":16400,"size":64},{"class":"netVM","power":91.3,"rps":2760,"size":64},{"class":"netVM","power":90.7,"rps":1970,"size":81},{"class":"netVM","power":88.9,"rps":1550,"size":169},{"class":"netVM","power":89.8,"rps":1070,"size":225},{"class":"netVM","power":90.2,"rps":655,"size":324},{"class":"netVM","power":99.2,"rps":9800,"size":225},{"class":"netVM","power":101.4,"rps":7730,"size":144},{"class":"netVM","power":98.7,"rps":6100,"size":169},{"class":"netVM","power":104.1,"rps":4450,"size":169},{"class":"netVM","power":84.8,"rps":25400,"size":81},{"class":"netVM","power":74.9,"rps":27900,"size":49},{"class":"netVM","power":97.8,"rps":30900,"size":144},{"class":"netVM","power":96.5,"rps":32100,"size":144},{"class":"netVM","power":107.7,"rps":34800,"size":144},{"class":"netVM","power":104.6,"rps":16400,"size":100},{"class":"netVM","power":106.8,"rps":22500,"size":100},{"class":"netVM","power":111.3,"rps":14600,"size":81},{"class":"netVM","power":113.5,"rps":14600,"size":121},{"class":"netVM","power":93.3,"rps":11000,"size":121},{"class":"netVM","power":95.1,"rps":21600,"size":100},{"class":"netVM","power":101,"rps":10500,"size":169},{"class":"netVM","power":106,"rps":10500,"size":121},{"class":"netVM","power":118,"rps":13500,"size":100},{"class":"netVM","power":92,"rps":14000,"size":144},{"class":"netVM","power":96,"rps":8700,"size":225},{"class":"netVM","power":94,"rps":10000,"size":196},{"class":"netVM","power":98,"rps":11000,"size":196},{"class":"netVM","power":100,"rps":12000,"size":169},{"class":"netVM","power":103,"rps":14000,"size":144},{"class":"netVM","power":109,"rps":14000,"size":144},{"class":"netVM","power":105,"rps":8500,"size":196},{"class":"netVM","power":111,"rps":11000,"size":144},{"class":"netVM","power":107,"rps":6000,"size":196},
{"class":"netVM","power":99,"rps":8000,"size":289},{"class":"netVM","power":101,"rps":6000,"size":225},{"class":"netVM","power":103,"rps":11000,"size":196},{"class":"netVM","power":105,"rps":12500,"size":169},{"class":"netVM","power":107,"rps":9000,"size":225},{"class":"netVM","power":109,"rps":10000,"size":196},{"class":"netVM","power":111,"rps":6500,"size":225},{"class":"netVM","power":113,"rps":9000,"size":196},{"class":"netVM","power":116,"rps":10500,"size":169},{"class":"netVM","power":114,"rps":17000,"size":144},{"class":"netVM","power":110,"rps":19000,"size":121},{"class":"netVM","power":108,"rps":25000,"size":121},{"class":"netVM","power":104,"rps":20000,"size":121},{"class":"netVM","power":100,"rps":22000,"size":121},{"class":"netVM","power":98,"rps":25000,"size":144},{"class":"netVM","power":102,"rps":28000,"size":121},{"class":"netVM","power":106,"rps":31000,"size":100},{"class":"netVM","power":97,"rps":14000,"size":196},{"class":"netVM","power":93,"rps":7500,"size":225},{"class":"netVM","power":91,"rps":9000,"size":196},{"class":"netVM","power":94,"rps":6500,"size":256},{"class":"netVM","power":96,"rps":5000,"size":256},{"class":"netVM","power":99,"rps":4500,"size":225},{"class":"netVM","power":105,"rps":4500,"size":225},{"class":"netVM","power":107,"rps":3800,"size":256},{"class":"netVM","power":97,"rps":2900,"size":169},{"class":"netVM","power":100,"rps":30000,"size":100},{"class":"netVM","power":111,"rps":22000,"size":121},{"class":"netVM","power":115,"rps":22000,"size":100},{"class":"netVM","power":111,"rps":30000,"size":100},
{"class":"netVM","power":108.3,"rps":268000,"size":49},{"class":"netVM","power":106.4,"rps":256000,"size":49},{"class":"netVM","power":110.7,"rps":248000,"size":49},{"class":"netVM","power":108.7,"rps":222000,"size":49},{"class":"netVM","power":111.3,"rps":236000,"size":36},{"class":"netVM","power":111.8,"rps":183000,"size":49},{"class":"netVM","power":112.8,"rps":180000,"size":49},{"class":"netVM","power":108.3,"rps":180000,"size":49},{"class":"netVM","power":114.3,"rps":194000,"size":49},{"class":"netVM","power":111.3,"rps":150000,"size":49},{"class":"netVM","power":106.8,"rps":150000,"size":49},{"class":"netVM","power":108,"rps":134000,"size":49},{"class":"netVM","power":109.5,"rps":145000,"size":36},{"class":"netVM","power":113.7,"rps":141000,"size":49},{"class":"netVM","power":115.4,"rps":161000,"size":49},{"class":"netVM","power":86.8,"rps":97000,"size":49},{"class":"netVM","power":82.6,"rps":57300,"size":49},{"class":"netVM","power":96.9,"rps":59600,"size":64},{"class":"netVM","power":100.4,"rps":56000,"size":49},{"class":"netVM","power":101.9,"rps":52500,"size":49},{"class":"netVM","power":105,"rps":48900,"size":64},{"class":"netVM","power":102.8,"rps":63000,"size":64},{"class":"netVM","power":108.2,"rps":79800,"size":81},{"class":"netVM","power":112,"rps":63000,"size":64},{"class":"netVM","power":115.3,"rps":64600,"size":64},{"class":"netVM","power":113.8,"rps":73800,"size":64},{"class":"netVM","power":113.3,"rps":40700,"size":100},{"class":"netVM","power":107.7,"rps":36200,"size":121},{"class":"netVM","power":99.6,"rps":29700,"size":121},{"class":"netVM","power":113.1,"rps":23400,"size":225},{"class":"netVM","power":91.5,"rps":35600,"size":49},{"class":"netVM","power":82.6,"rps":10200,"size":64},{"class":"netVM","power":82.4,"rps":9440,"size":49},{"class":"netVM","power":85.1,"rps":8180,"size":196},{"class":"netVM","power":85.7,"rps":6350,"size":196},{"class":"netVM","power":84.5,"rps":5800,"size":196}
]},
"layer":[
{"data":{"name":"bubbles"},"mark":{"type":"point","filled":true,"opacity":0.7,"stroke":"white","strokeWidth":1,"shape":"circle"},
"encoding":{
"x":{"field":"power","type":"quantitative","title":"Power (W)","scale":{"domain":[7.7,264.3],"nice":false,"zero":false},"axis":{"values":[50,100,150,200,250],"grid":true,"gridColor":"#ebf0f8","gridWidth":1,"domain":false,"ticks":false,"labelColor":"#2a3f5f","labelFontSize":12,"labelPadding":2,"titleColor":"#2a3f5f","titleFontSize":13.5,"titleFontWeight":"normal","titlePadding":8}},
"y":{"field":"rps","type":"quantitative","title":"Average requests per second","scale":{"type":"log","domain":[35.6,1626000],"nice":false},"axis":{"values":[50,100,200,500,1000,2000,5000,10000,20000,50000,100000,200000,500000,1000000],"grid":true,"gridColor":"#ebf0f8","gridWidth":1,"domain":false,"ticks":false,"labelColor":"#2a3f5f","labelPadding":2,"labelFontSize":{"condition":{"test":"datum.value==100||datum.value==1000||datum.value==10000||datum.value==100000||datum.value==1000000","value":12},"value":10},"labelExpr":"datum.value==1000000?'1M':datum.value==100000?'100k':datum.value==10000?'10k':datum.value==1000?'1000':datum.value==100?'100':slice(''+datum.value,0,1)","titleColor":"#2a3f5f","titleFontSize":13.5,"titleFontWeight":"normal","titlePadding":19}},
"size":{"field":"size","type":"quantitative","scale":{"type":"linear","zero":false,"domain":[0,400],"range":[15.5,465.5]},"legend":null},
"color":{"field":"class","type":"nominal","title":"Language Class","scale":{"domain":["compiled","interpreted","JVM","vm","netVM"],"range":["#636efa","#ef553b","#00cc96","#ab63fa","#ffa15a"]},"legend":{"orient":"none","legendX":972,"legendY":7,"symbolType":"circle","symbolSize":100,"symbolOpacity":0.7,"symbolStrokeWidth":0,"symbolOffset":12,"labelOffset":13,"labelFontSize":11.7,"labelColor":"#2a3f5f","titleColor":"#2a3f5f","titleFontSize":13.4,"titleFontWeight":"normal","titlePadding":7,"rowPadding":5.5}}
}},
{"data":{"name":"arrows"},"mark":{"type":"rule","strokeWidth":1.5},
"encoding":{"x":{"field":"power","type":"quantitative"},"x2":{"field":"power_end"},"y":{"field":"rps","type":"quantitative"},"y2":{"field":"rps_end"},
"color":{"field":"name","type":"nominal","legend":null,"scale":{"domain":["Lithium","Beetlex","Swool","Quarcus","hapi"],"range":["#0a58d6","#ff8c1a","#ff3a1a","#00cc96","#ff2a0d"]}}}},
{"data":{"name":"arrows"},"transform":[{"filter":"datum.name=='Lithium'"}],"mark":{"type":"point","shape":"triangle-up","filled":true,"opacity":1,"size":50,"angle":87,"color":"#0a58d6"},"encoding":{"x":{"field":"power_end","type":"quantitative"},"y":{"field":"rps_end","type":"quantitative"}}},
{"data":{"name":"arrows"},"transform":[{"filter":"datum.name=='Beetlex'"}],"mark":{"type":"point","shape":"triangle-up","filled":true,"opacity":1,"size":50,"angle":96,"color":"#ff8c1a"},"encoding":{"x":{"field":"power_end","type":"quantitative"},"y":{"field":"rps_end","type":"quantitative"}}},
{"data":{"name":"arrows"},"transform":[{"filter":"datum.name=='Swool'"}],"mark":{"type":"point","shape":"triangle-up","filled":true,"opacity":1,"size":50,"angle":280,"color":"#ff3a1a"},"encoding":{"x":{"field":"power_end","type":"quantitative"},"y":{"field":"rps_end","type":"quantitative"}}},
{"data":{"name":"arrows"},"transform":[{"filter":"datum.name=='Quarcus'"}],"mark":{"type":"point","shape":"triangle-up","filled":true,"opacity":1,"size":50,"angle":119,"color":"#00cc96"},"encoding":{"x":{"field":"power_end","type":"quantitative"},"y":{"field":"rps_end","type":"quantitative"}}},
{"data":{"name":"arrows"},"transform":[{"filter":"datum.name=='hapi'&&datum.rps_end>150"}],"mark":{"type":"point","shape":"triangle-up","filled":true,"opacity":1,"size":50,"angle":295,"color":"#ff2a0d"},"encoding":{"x":{"field":"power_end","type":"quantitative"},"y":{"field":"rps_end","type":"quantitative"}}},
{"data":{"name":"arrows"},"transform":[{"filter":"datum.name=='hapi'&&datum.rps_end<150"}],"mark":{"type":"point","shape":"triangle-up","filled":true,"opacity":1,"size":50,"angle":275,"color":"#ff2a0d"},"encoding":{"x":{"field":"power_end","type":"quantitative"},"y":{"field":"rps_end","type":"quantitative"}}},
{"data":{"name":"notes"},"mark":{"type":"text","align":"left","baseline":"middle","fontSize":15.5},
"encoding":{"x":{"field":"power","type":"quantitative"},"y":{"field":"rps","type":"quantitative"},"text":{"field":"text"},
"color":{"field":"name","type":"nominal","legend":null,"scale":{"domain":["Lithium","Beetlex","Swool","Quarcus","hapi"],"range":["#1a66f5","#ff8c1a","#ff3a1a","#00d9a0","#ff2a0d"]}}}}
],
"resolve":{"scale":{"color":"independent"}}}
